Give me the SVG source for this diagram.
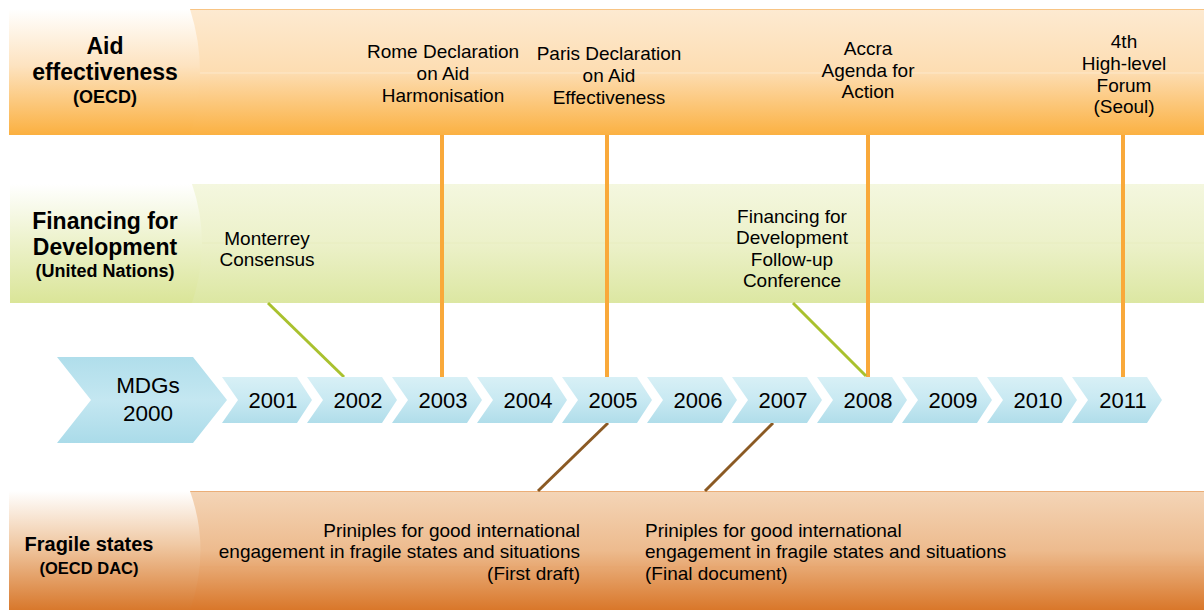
<svg xmlns="http://www.w3.org/2000/svg" width="1204" height="610" viewBox="0 0 1204 610">
<defs>
<linearGradient id="gTop" x1="0" y1="0" x2="0" y2="1">
<stop offset="0" stop-color="#FDEAD1"/><stop offset="0.5" stop-color="#FDDDB2"/><stop offset="1" stop-color="#FBB142"/>
</linearGradient>
<linearGradient id="gTopL" x1="0" y1="0" x2="0" y2="1">
<stop offset="0" stop-color="#FFFFFF"/><stop offset="0.45" stop-color="#FDE3C0"/><stop offset="1" stop-color="#FBB040"/>
</linearGradient>
<linearGradient id="gMid" x1="0" y1="0" x2="0" y2="1">
<stop offset="0" stop-color="#F4F7DF"/><stop offset="0.5" stop-color="#ECF1C9"/><stop offset="1" stop-color="#DCE7A2"/>
</linearGradient>
<linearGradient id="gMidL" x1="0" y1="0" x2="0" y2="1">
<stop offset="0" stop-color="#FFFFFF"/><stop offset="0.45" stop-color="#EEF3CF"/><stop offset="1" stop-color="#DAE598"/>
</linearGradient>
<linearGradient id="gBot" x1="0" y1="0" x2="0" y2="1">
<stop offset="0" stop-color="#F4D5B7"/><stop offset="0.5" stop-color="#EDBB8E"/><stop offset="1" stop-color="#D9772A"/>
</linearGradient>
<linearGradient id="gBotL" x1="0" y1="0" x2="0" y2="1">
<stop offset="0" stop-color="#FFFFFF"/><stop offset="0.45" stop-color="#F0C9A4"/><stop offset="1" stop-color="#D8782C"/>
</linearGradient>
<linearGradient id="gChev" x1="0" y1="0" x2="0" y2="1">
<stop offset="0" stop-color="#D8F0F6"/><stop offset="0.5" stop-color="#C8E9F2"/><stop offset="1" stop-color="#B0DDEA"/>
</linearGradient>
<linearGradient id="gMdg" x1="0" y1="0" x2="0" y2="1">
<stop offset="0" stop-color="#B0DEEB"/><stop offset="0.5" stop-color="#C4E7F1"/><stop offset="1" stop-color="#AADBE9"/>
</linearGradient>
<path id="chev" d="M0,377 L75,377 L90,400 L75,423 L0,423 L16,400 Z"/>
</defs>
<style>
text{font-family:"Liberation Sans",Arial,sans-serif;fill:#000;}
.h{font-weight:bold;font-size:23px;text-anchor:middle;}
.s{font-weight:bold;font-size:18px;text-anchor:middle;}
.t{font-size:19px;text-anchor:middle;}
.y{font-size:22px;text-anchor:middle;}
.gloss{stroke:#FFFFFF;stroke-opacity:0.35;stroke-width:1;}
.orange{stroke:#F9A93A;stroke-width:4;fill:none;}
.green{stroke:#A9C12E;stroke-width:3;fill:none;}
.brown{stroke:#8B5A24;stroke-width:3;fill:none;}
</style>

<g id="band-aid">
<rect x="9" y="9" width="1195" height="126" fill="url(#gTop)"/>
<line x1="190" y1="9.5" x2="1204" y2="9.5" stroke="#F8C484" stroke-width="1"/>
<line x1="9" y1="73" x2="1204" y2="73" class="gloss" stroke="#F6C98E" stroke-opacity="0.5"/>
<path d="M9,9 L190,9 Q210,72 190,135 L9,135 Z" fill="url(#gTopL)"/>
<text class="h" x="105" y="54">Aid</text>
<text class="h" x="105" y="80">effectiveness</text>
<text class="s" x="105" y="103">(OECD)</text>
</g>

<g id="band-ffd">
<rect x="10" y="184" width="1194" height="119" fill="url(#gMid)"/>
<line x1="10" y1="243" x2="1204" y2="243" stroke="#E4EBB8" stroke-opacity="0.5"/>
<path d="M10,184 L192,184 Q212,243 192,303 L10,303 Z" fill="url(#gMidL)"/>
<text class="h" x="105" y="229">Financing for</text>
<text class="h" x="105" y="255">Development</text>
<text class="s" x="105" y="277">(United Nations)</text>
</g>

<g id="band-fragile">
<rect x="9" y="491" width="1195" height="119" fill="url(#gBot)"/>
<line x1="190" y1="491.5" x2="1204" y2="491.5" stroke="#EBAE78" stroke-width="1"/>
<line x1="9" y1="567" x2="1204" y2="567" stroke="#E8A46C" stroke-opacity="0.5"/>
<path d="M9,491 L190,491 Q211,550 190,610 L9,610 Z" fill="url(#gBotL)"/>
<text class="h" x="89" y="551" style="font-size:20px">Fragile states</text>
<text class="s" x="89" y="574" style="font-size:16.5px">(OECD DAC)</text>
</g>

<g id="connectors">
<line class="orange" x1="442" y1="135" x2="442" y2="377"/>
<line class="orange" x1="607" y1="135" x2="607" y2="377"/>
<line class="orange" x1="868" y1="135" x2="868" y2="377"/>
<line class="orange" x1="1123" y1="135" x2="1123" y2="377"/>
<line class="green" x1="268" y1="303" x2="344" y2="377"/>
<line class="green" x1="793" y1="303" x2="866" y2="376"/>
<line class="brown" x1="608" y1="423" x2="538" y2="491"/>
<line class="brown" x1="773" y1="423" x2="705" y2="491"/>
</g>

<g id="mdgs">
<path d="M57,357 L193,357 L227,400 L193,443 L57,443 L91,400 Z" fill="url(#gMdg)"/>
<text class="y" x="148" y="393" style="font-size:22.5px">MDGs</text>
<text class="y" x="148" y="421" style="font-size:22.5px">2000</text>
</g>
<g id="y2001"><use href="#chev" x="222" fill="url(#gChev)"/><text class="y" x="273" y="408">2001</text></g>
<g id="y2002"><use href="#chev" x="307" fill="url(#gChev)"/><text class="y" x="358" y="408">2002</text></g>
<g id="y2003"><use href="#chev" x="392" fill="url(#gChev)"/><text class="y" x="443" y="408">2003</text></g>
<g id="y2004"><use href="#chev" x="477" fill="url(#gChev)"/><text class="y" x="528" y="408">2004</text></g>
<g id="y2005"><use href="#chev" x="562" fill="url(#gChev)"/><text class="y" x="613" y="408">2005</text></g>
<g id="y2006"><use href="#chev" x="647" fill="url(#gChev)"/><text class="y" x="698" y="408">2006</text></g>
<g id="y2007"><use href="#chev" x="732" fill="url(#gChev)"/><text class="y" x="783" y="408">2007</text></g>
<g id="y2008"><use href="#chev" x="817" fill="url(#gChev)"/><text class="y" x="868" y="408">2008</text></g>
<g id="y2009"><use href="#chev" x="902" fill="url(#gChev)"/><text class="y" x="953" y="408">2009</text></g>
<g id="y2010"><use href="#chev" x="987" fill="url(#gChev)"/><text class="y" x="1038" y="408">2010</text></g>
<g id="y2011"><use href="#chev" x="1072" fill="url(#gChev)"/><text class="y" x="1123" y="408">2011</text></g>

<g id="ev-rome">
<text class="t" x="443" y="58">Rome Declaration</text>
<text class="t" x="443" y="80">on Aid</text>
<text class="t" x="443" y="102">Harmonisation</text>
</g>
<g id="ev-paris">
<text class="t" x="609" y="60">Paris Declaration</text>
<text class="t" x="609" y="82">on Aid</text>
<text class="t" x="609" y="104">Effectiveness</text>
</g>
<g id="ev-accra">
<text class="t" x="868" y="55">Accra</text>
<text class="t" x="868" y="77">Agenda for</text>
<text class="t" x="868" y="98">Action</text>
</g>
<g id="ev-seoul">
<text class="t" x="1124" y="48">4th</text>
<text class="t" x="1124" y="70">High-level</text>
<text class="t" x="1124" y="92">Forum</text>
<text class="t" x="1124" y="113">(Seoul)</text>
</g>
<g id="ev-monterrey">
<text class="t" x="267" y="245">Monterrey</text>
<text class="t" x="267" y="266">Consensus</text>
</g>
<g id="ev-ffd-followup">
<text class="t" x="792" y="223">Financing for</text>
<text class="t" x="792" y="244">Development</text>
<text class="t" x="792" y="266">Follow-up</text>
<text class="t" x="792" y="287">Conference</text>
</g>
<g id="ev-principles-draft">
<text class="t" x="580" y="537" text-anchor="end" style="text-anchor:end">Priniples for good international</text>
<text class="t" x="580" y="558" style="text-anchor:end">engagement in fragile states and situations</text>
<text class="t" x="580" y="580" style="text-anchor:end">(First draft)</text>
</g>
<g id="ev-principles-final">
<text class="t" x="645" y="537" style="text-anchor:start">Priniples for good international</text>
<text class="t" x="645" y="558" style="text-anchor:start">engagement in fragile states and situations</text>
<text class="t" x="645" y="580" style="text-anchor:start">(Final document)</text>
</g>
</svg>
